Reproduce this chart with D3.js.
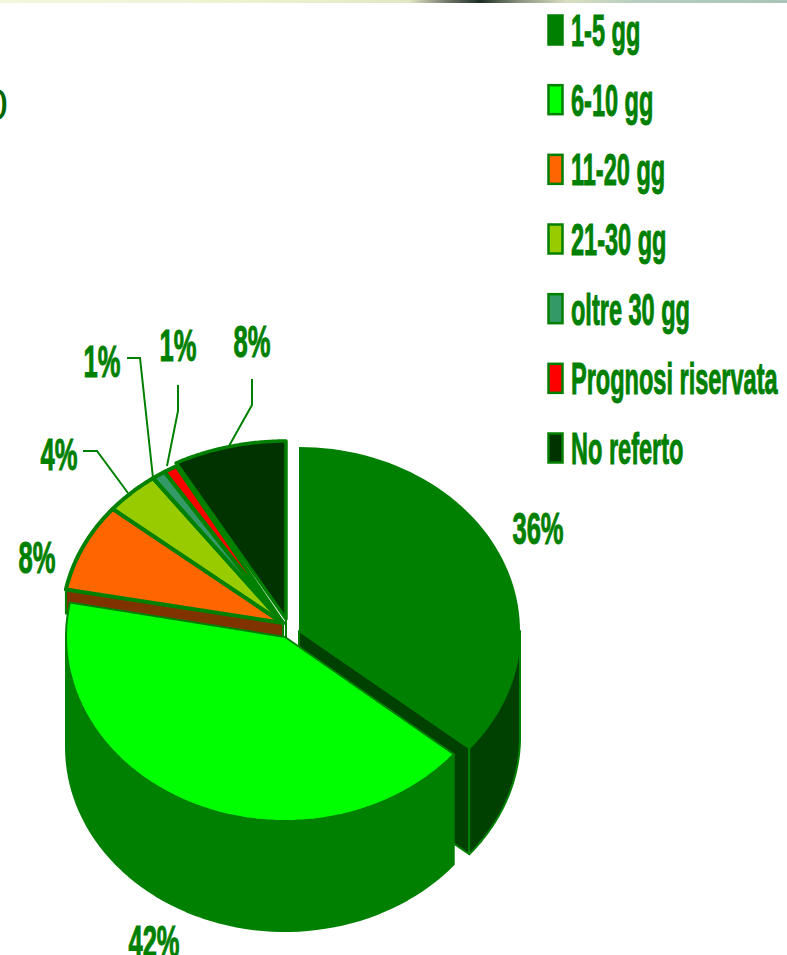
<!DOCTYPE html>
<html><head><meta charset="utf-8">
<style>html,body{margin:0;padding:0;background:#fff;overflow:hidden}svg{display:block}</style>
<script src="https://cdn.jsdelivr.net/npm/d3@7"></script></head>
<body><svg id="c" width="787" height="955"></svg>
<script>
const categories=["1-5 gg","6-10 gg","11-20 gg","21-30 gg","oltre 30 gg","Prognosi riservata","No referto"];
const values=[36,42,8,4,1,1,8];
const colors=["#008000","#00ff00","#ff6600","#99cc00","#339966","#ff0000","#003300"];

const svg=d3.select("#c"), GREEN="#008000";
// layout of each slice's elliptical face
const geom=[
 {cx:299,cy:631,rx:221,ry:184,depth:106,wall:"#004000",inner:"#004000",sw:0},
 {cx:285,cy:637,rx:219,ry:184,depth:110,wall:"#008000",inner:"#008000",sw:2},
 {cx:283,cy:623,rx:221,ry:179,depth:24,wall:"#803300",inner:"#803300",sw:4},
 {cx:283,cy:623,rx:221,ry:179,depth:0,sw:4},
 {cx:283,cy:623,rx:221,ry:179,depth:0,sw:4},
 {cx:283,cy:623,rx:221,ry:179,depth:0,sw:4},
 {cx:286,cy:619,rx:228,ry:178,depth:24,wall:"#003300",inner:"#003300",sw:3.5}
];
const arcs=d3.pie().sort(null)(values);
const pt=(g,a,dy=0)=>[g.cx+g.rx*Math.sin(a),g.cy-g.ry*Math.cos(a)+dy];
const line=d3.line();
const along=(g,a0,a1,dy=0)=>d3.range(0,61).map(i=>pt(g,a0+(a1-a0)*i/60,dy));

function drawOuterWall(i){
  const g=geom[i],d=arcs[i];
  const a0=Math.max(d.startAngle,Math.PI/2),a1=Math.min(d.endAngle,Math.PI*1.5);
  if(a1<=a0||!g.depth)return;
  const p=along(g,a0,a1).concat(along(g,a1,a0,g.depth));
  svg.append("path").attr("d",line(p)+"Z").attr("fill",g.wall).attr("stroke",GREEN).attr("stroke-width",2).attr("stroke-linejoin","round");
}
function drawInnerWall(i,a){
  const g=geom[i];
  if(!g.depth)return;
  const c=[g.cx,g.cy],e=pt(g,a);
  const p=[c,e,[e[0],e[1]+g.depth],[c[0],c[1]+g.depth]];
  svg.append("path").attr("d",line(p)+"Z").attr("fill",g.inner).attr("stroke",GREEN).attr("stroke-width",2).attr("stroke-linejoin","round");
}
function drawTop(i){
  const g=geom[i],d=arcs[i];
  const p=[[g.cx,g.cy]].concat(along(g,d.startAngle,d.endAngle));
  svg.append("path").attr("d",line(p)+"Z").attr("fill",colors[i])
    .attr("stroke",GREEN).attr("stroke-width",g.sw).attr("stroke-linejoin","round");
}

// top strip
const grad=svg.append("defs").append("linearGradient").attr("id","strip");
[[0,"#f4f6dc"],[.3,"#eef2d2"],[.52,"#e2e6c4"],[.57,"#6e7568"],[.61,"#1c2e22"],[.66,"#8a9480"],[.72,"#d9dfc0"],[.8,"#b9cfc0"],[1,"#a9c4b8"]]
 .forEach(s=>grad.append("stop").attr("offset",s[0]).attr("stop-color",s[1]));
svg.append("rect").attr("width",787).attr("height",3).attr("fill","url(#strip)");

// cropped title fragment
svg.append("text").attr("x",8).attr("y",120).attr("text-anchor","end")
  .attr("font-family","Liberation Sans").attr("font-size",44).attr("fill","#006600").text("0");

// exploded slice
drawInnerWall(0,arcs[0].endAngle);
drawOuterWall(0);
drawTop(0);
// back slices
drawInnerWall(6,arcs[6].endAngle);
drawInnerWall(2,arcs[2].startAngle);
[2,3,4,5,6].forEach(drawTop);
// front slice
drawOuterWall(1);
drawTop(1);

// leader lines
const leaders=[[[83,451],[97,451],[128,493]],[[127,358],[140,358],[153,478]],[[178,385],[178,411],[167,466]],[[252,379],[252,405],[229,446]]];
leaders.forEach(l=>svg.append("path").attr("d",line(l)).attr("fill","none").attr("stroke",GREEN).attr("stroke-width",2));

// labels
const labelPos=[[538,544],[154,957],[37,573],[59,470],[102,377],[178,361],[252,357]];
const bold=(sel,x,y,size,sx)=>sel.attr("transform",`translate(${x},${y}) scale(${sx},1)`)
  .attr("font-family","Liberation Sans").attr("font-weight","bold").attr("font-size",size).attr("fill",GREEN)
  .attr("stroke",GREEN).attr("stroke-width",1);
values.forEach((v,i)=>{
  bold(svg.append("text").attr("text-anchor","middle").text(d3.format("d")(v)+"%"),labelPos[i][0],labelPos[i][1],44,.58);
});

// legend
const legendY=d3.scaleLinear().domain([0,6]).range([30,448]);
categories.forEach((c,i)=>{
  const y=legendY(i);
  svg.append("rect").attr("x",548.5).attr("y",y-14.5).attr("width",14).attr("height",29)
    .attr("fill",colors[i]).attr("stroke",GREEN).attr("stroke-width",2.5);
  bold(svg.append("text").text(c),571,y+16,44,.535);
});
</script></body></html>
